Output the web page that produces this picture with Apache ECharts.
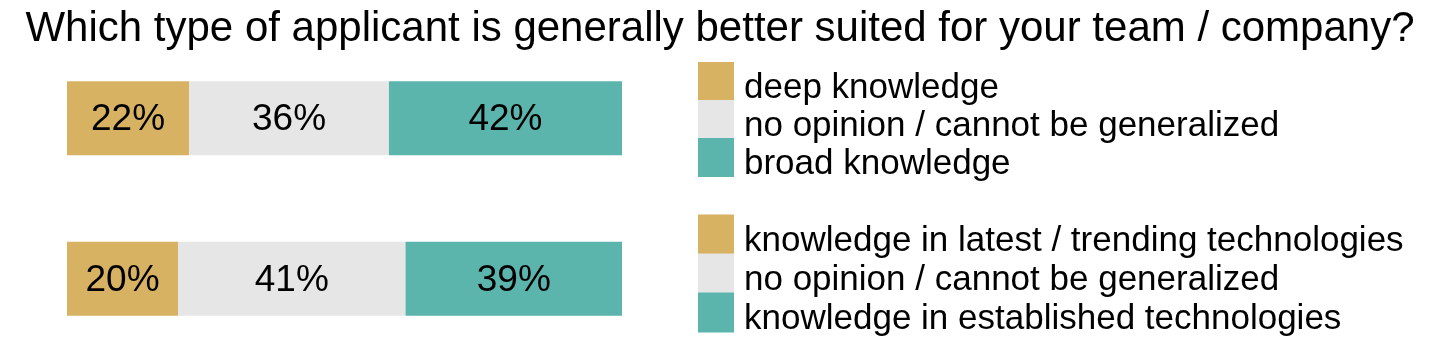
<!DOCTYPE html>
<html>
<head>
<meta charset="utf-8">
<script src="https://cdn.jsdelivr.net/npm/echarts@6/dist/echarts.min.js"></script>
<style>
  html, body { margin: 0; padding: 0; background: #fff; }
  #chart { width: 1440px; height: 351px; }
</style>
</head>
<body>
<div id="chart"></div>
<script>
// two survey questions, one bar each
const rows = ['expertise', 'technologies']
const deepValues = [22, '-']
const latestValues = ['-', 20]
const noOpinionValues = [36, 41]
const broadValues = [42, '-']
const establishedValues = ['-', 39]

const legendTop = ['deep knowledge', 'no opinion / cannot be generalized', 'broad knowledge']
const legendBottom = ['knowledge in latest / trending technologies', 'no opinion / cannot be generalized', 'knowledge in established technologies']

const GOLD = '#D8B263'
const GRAY = '#E6E6E6'
const TEAL = '#5BB5AD'
const FONT = '"Liberation Sans", Arial, sans-serif'

const chart = echarts.init(document.getElementById('chart'))

const bar = (name, data, color) => ({
    name,
    type: 'bar',
    stack: 'total',
    data,
    barWidth: 74,
    itemStyle: { color },
    label: {
        show: true,
        position: 'inside',
        formatter: '{c}%',
        color: '#000',
        fontSize: 37,
        fontFamily: FONT,
        offset: [0, 2]
    },
    emphasis: { disabled: true }
})

// text sits a bit lower than the swatch centre, so pad the top and pull the rows together
const legendBase = {
    orient: 'vertical',
    left: 698,
    padding: 0,
    itemGap: -11,
    itemWidth: 36,
    itemHeight: 39,
    icon: 'rect',
    selectedMode: false,
    formatter: '{t|{name}}',
    textStyle: {
        rich: {
            t: {
                fontSize: 35,
                fontFamily: FONT,
                color: '#000',
                lineHeight: 38,
                padding: [14, 0, 0, 5]
            }
        }
    }
}

chart.setOption({
    animation: false,
    title: {
        text: 'Which type of applicant is generally better suited for your team / company?',
        left: 'center',
        top: 3,
        textStyle: { fontSize: 42, fontWeight: 'normal', color: '#000', fontFamily: FONT }
    },
    legend: [
        Object.assign({}, legendBase, { top: 57, data: legendTop }),
        Object.assign({}, legendBase, { top: 210, itemHeight: 40, itemGap: -10, data: legendBottom })
    ],
    grid: { left: 67, width: 555, top: 38, height: 321, outerBoundsMode: 'none' },
    xAxis: { type: 'value', min: 0, max: 100, show: false },
    yAxis: { type: 'category', data: rows, inverse: true, show: false },
    series: [
        bar('deep knowledge', deepValues, GOLD),
        bar('knowledge in latest / trending technologies', latestValues, GOLD),
        bar('no opinion / cannot be generalized', noOpinionValues, GRAY),
        bar('broad knowledge', broadValues, TEAL),
        bar('knowledge in established technologies', establishedValues, TEAL)
    ]
})
</script>
</body>
</html>
